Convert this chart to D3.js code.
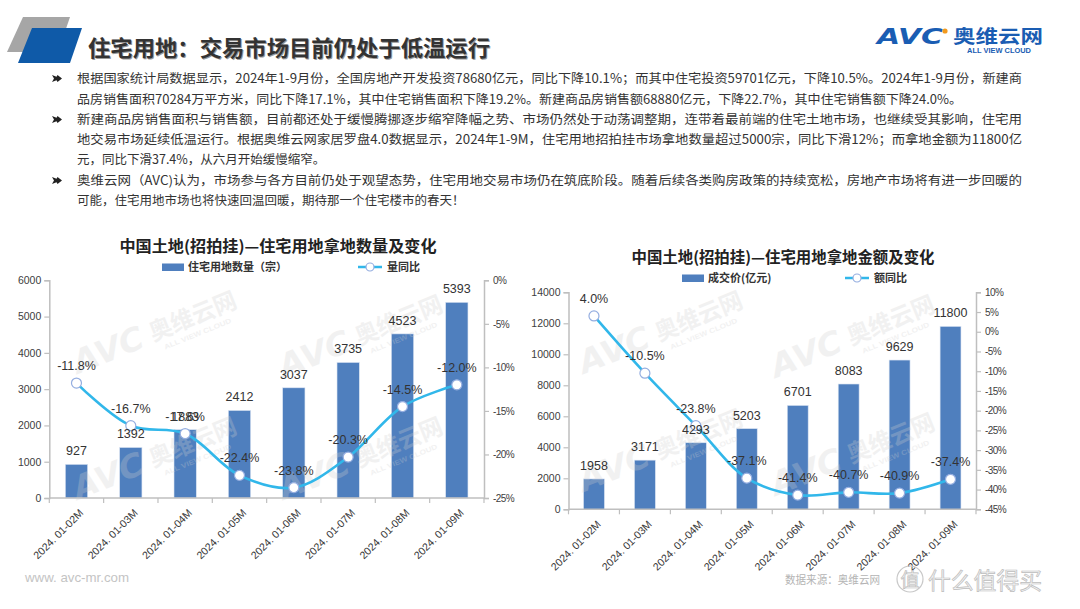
<!DOCTYPE html>
<html><head><meta charset="utf-8">
<script src="https://cdn.jsdelivr.net/npm/d3@7/dist/d3.min.js"></script>
<style>body{margin:0;background:#fff;overflow:hidden} svg{display:block}</style>
</head><body><svg id="c" width="1080" height="609"></svg>
<script>
// ---------- data ----------
const categories = ["2024. 01-02M","2024. 01-03M","2024. 01-04M","2024. 01-05M","2024. 01-06M","2024. 01-07M","2024. 01-08M","2024. 01-09M"];
const landCount = [927,1392,1883,2412,3037,3735,4523,5393];
const countYoY = [-11.8,-16.7,-17.6,-22.4,-23.8,-20.3,-14.5,-12.0];
const landAmount = [1958,3171,4293,5203,6701,8083,9629,11800];
const amountYoY = [4.0,-10.5,-23.8,-37.1,-41.4,-40.7,-40.9,-37.4];
const countTicks = [0,1000,2000,3000,4000,5000,6000];
const countPctTicks = [-25,-20,-15,-10,-5,0];
const amountTicks = [0,2000,4000,6000,8000,10000,12000,14000];
const amountPctTicks = [-45,-40,-35,-30,-25,-20,-15,-10,-5,0,5,10];
const pageTitle = "住宅用地：交易市场目前仍处于低温运行";
const chartTitles = ["中国土地(招拍挂)—住宅用地拿地数量及变化","中国土地(招拍挂)—住宅用地拿地金额及变化"];
const barNames = ["住宅用地数量（宗）","成交价(亿元)"];
const lineNames = ["量同比","额同比"];
const bodyLines = [
 "根据国家统计局数据显示，2024年1-9月份，全国房地产开发投资78680亿元，同比下降10.1%；而其中住宅投资59701亿元，下降10.5%。2024年1-9月份，新建商",
 "品房销售面积70284万平方米，同比下降17.1%，其中住宅销售面积下降19.2%。新建商品房销售额68880亿元，下降22.7%，其中住宅销售额下降24.0%。",
 "新建商品房销售面积与销售额，目前都还处于缓慢腾挪逐步缩窄降幅之势、市场仍然处于动荡调整期，连带着最前端的住宅土地市场，也继续受其影响，住宅用",
 "地交易市场延续低温运行。根据奥维云网家居罗盘4.0数据显示，2024年1-9M，住宅用地招拍挂市场拿地数量超过5000宗，同比下滑12%；而拿地金额为11800亿",
 "元，同比下滑37.4%，从六月开始缓慢缩窄。",
 "奥维云网（AVC)认为，市场参与各方目前仍处于观望态势，住宅用地交易市场仍在筑底阶段。随着后续各类购房政策的持续宽松，房地产市场将有进一步回暖的",
 "可能，住宅用地市场也将快速回温回暖，期待那一个住宅楼市的春天！"
];

const svg = d3.select("#c");
const CJK = "'Noto Sans CJK SC','Noto Sans',sans-serif";
const NUM = "'Liberation Sans','Noto Sans',sans-serif";
const BAR = "#4f7fbe", LINE = "#31b7ea", MARK = "#95aee0";

// ---------- header ----------
svg.append("polygon").attr("points","23,17 70,17 58,52 7,52").attr("fill","#a6a6a6");
svg.append("polygon").attr("points","32,28 82,28 70,63 18,63").attr("fill","#0f5aa8");
svg.append("text").attr("x",89).attr("y",57).attr("font-family",CJK).attr("font-weight","bold")
  .attr("font-size",22).attr("fill","#9a9a9a").attr("textLength",402).attr("lengthAdjust","spacingAndGlyphs").text(pageTitle);
svg.append("text").attr("x",88).attr("y",56).attr("font-family",CJK).attr("font-weight","bold")
  .attr("font-size",22).attr("fill","#333").attr("textLength",402).attr("lengthAdjust","spacingAndGlyphs").text(pageTitle);

// logo
svg.append("text").attr("x",877).attr("y",44).attr("font-family","'DejaVu Sans',sans-serif").attr("font-weight","bold")
  .attr("font-style","italic").attr("font-size",21).attr("fill","#1a5db3").attr("textLength",66).attr("lengthAdjust","spacingAndGlyphs").text("AVC");
svg.append("circle").attr("cx",945).attr("cy",31).attr("r",2.6).attr("fill","#f39a1e");
svg.append("text").attr("x",953).attr("y",43).attr("font-family",CJK).attr("font-weight","bold")
  .attr("font-size",18).attr("fill","#1a5db3").attr("textLength",90).attr("lengthAdjust","spacingAndGlyphs").text("奥维云网");
svg.append("text").attr("x",967).attr("y",53).attr("font-family",NUM).attr("font-weight","bold")
  .attr("font-size",7).attr("fill","#1a5db3").attr("textLength",64).attr("lengthAdjust","spacingAndGlyphs").text("ALL VIEW CLOUD");

// ---------- body text ----------
const lineY = [83,104,124,144,164,185,205];
const lineW = [945,885,945,945,null,945,null];
bodyLines.forEach((t,i)=>{
  const tx = svg.append("text").attr("x",77).attr("y",lineY[i]).attr("font-family",CJK)
    .attr("font-size",12.5).attr("fill","#333").text(t);
  if(lineW[i]) tx.attr("textLength",lineW[i]).attr("lengthAdjust","spacingAndGlyphs");
});
[0,2,5].forEach(i=>{
  svg.append("path").attr("transform",`translate(57,${lineY[i]-4.5})`)
    .attr("d","M-5,-3.5 L-0.5,-1.8 L0.5,-3.5 L5,0 L0.5,3.5 L-0.5,1.8 L-5,3.5 L-3,0 Z").attr("fill","#222");
});

// ---------- watermark helper ----------
function watermark(g,x,y){
  const w = g.append("g").attr("transform",`translate(${x},${y}) rotate(-22)`).attr("opacity",0.28).attr("pointer-events","none");
  w.append("text").attr("x",0).attr("y",0).attr("font-family","'DejaVu Sans',sans-serif").attr("font-weight","bold")
   .attr("font-style","italic").attr("font-size",32).attr("fill","#cfcfcf").attr("textLength",74).attr("lengthAdjust","spacingAndGlyphs").text("AVC");
  w.append("text").attr("x",82).attr("y",-2).attr("font-family",CJK).attr("font-weight","bold")
   .attr("font-size",24).attr("fill","#cfcfcf").attr("textLength",92).attr("lengthAdjust","spacingAndGlyphs").text("奥维云网");
  w.append("text").attr("x",90).attr("y",10).attr("font-family",NUM).attr("font-weight","bold")
   .attr("font-size",7).attr("fill","#cfcfcf").attr("textLength",72).attr("lengthAdjust","spacingAndGlyphs").text("ALL VIEW CLOUD");
}

// ---------- combo chart ----------
function drawChart(o){
  const g = svg.append("g");
  const x = d3.scaleBand().domain(categories).range([o.x0,o.x1]).paddingInner(0.59).paddingOuter(0.295);
  const yL = d3.scaleLinear().domain([0,d3.max(o.ticks)]).range([o.yB,o.yT]);
  const yR = d3.scaleLinear().domain(d3.extent(o.pctTicks)).range([o.yB,o.yT]);
  const cx = c => x(c)+x.bandwidth()/2;

  // title
  g.append("text").attr("x",o.titleX).attr("y",o.titleY).attr("text-anchor","middle").attr("font-family",CJK)
   .attr("font-weight","bold").attr("font-size",15.5).attr("fill","#222").attr("textLength",o.titleW)
   .attr("lengthAdjust","spacingAndGlyphs").text(o.title);
  // legend
  g.append("rect").attr("x",o.lgX).attr("y",o.lgY-3.5).attr("width",22).attr("height",7.5).attr("fill",BAR);
  g.append("text").attr("x",o.lgX+26).attr("y",o.lgY+4).attr("font-family",CJK).attr("font-weight","bold")
   .attr("font-size",11).attr("fill","#333").text(o.barName);
  g.append("line").attr("x1",o.lg2X).attr("x2",o.lg2X+24).attr("y1",o.lgY).attr("y2",o.lgY).attr("stroke",LINE).attr("stroke-width",2.5);
  g.append("circle").attr("cx",o.lg2X+12).attr("cy",o.lgY).attr("r",4).attr("fill","#fff").attr("stroke",MARK).attr("stroke-width",1.2);
  g.append("text").attr("x",o.lg2X+29).attr("y",o.lgY+4).attr("font-family",CJK).attr("font-weight","bold")
   .attr("font-size",11).attr("fill","#333").text(o.lineName);

  // axes
  const axL = g.append("g").attr("transform",`translate(${o.x0},0)`)
    .call(d3.axisLeft(yL).tickValues(o.ticks).tickSize(5).tickPadding(3).tickFormat(d3.format("d")));
  const axR = g.append("g").attr("transform",`translate(${o.x1},0)`)
    .call(d3.axisRight(yR).tickValues(o.pctTicks).tickSize(5).tickPadding(4).tickFormat(d=>d+"%"));
  [axL,axR].forEach(a=>{
    a.select(".domain").attr("stroke","#bfbfbf").attr("stroke-width",1.5);
    a.selectAll(".tick line").attr("stroke","#bfbfbf").attr("stroke-width",1.2);
    a.selectAll(".tick text").attr("font-family",NUM).attr("font-size",10.5).attr("fill","#404040");
  });
  axR.selectAll(".tick text").attr("font-size",10).attr("letter-spacing","-0.6px");

  // bars
  g.selectAll("rect.bar").data(categories).enter().append("rect").attr("class","bar")
   .attr("x",c=>x(c)).attr("width",x.bandwidth())
   .attr("y",(c,i)=>yL(o.values[i])).attr("height",(c,i)=>o.yB-yL(o.values[i]))
   .attr("fill",BAR).attr("stroke","#d9e3f2").attr("stroke-width",0.6);

  // x axis
  g.append("line").attr("x1",o.x0).attr("x2",o.x1).attr("y1",o.yB).attr("y2",o.yB).attr("stroke","#bfbfbf").attr("stroke-width",1.5);
  d3.range(categories.length+1).forEach(i=>{
    const xx = o.x0 + i*x.step();
    g.append("line").attr("x1",xx).attr("x2",xx).attr("y1",o.yB).attr("y2",o.yB+5).attr("stroke","#bfbfbf").attr("stroke-width",1.2);
  });
  g.selectAll("text.xl").data(categories).enter().append("text").attr("class","xl")
   .attr("transform",c=>`translate(${cx(c)+5},${o.yB+13}) rotate(-45)`).attr("text-anchor","end").attr("dy","0.35em")
   .attr("font-family",NUM).attr("font-size",10.6).attr("fill","#383838").text(c=>c);

  // watermarks
  o.wm.forEach(p=>watermark(g,p[0],p[1]));

  // line
  const pts = categories.map((c,i)=>[cx(c),yR(o.pct[i])]);
  g.append("path").attr("d",d3.line().curve(d3.curveCatmullRom.alpha(0.5))(pts))
   .attr("fill","none").attr("stroke",LINE).attr("stroke-width",2.6);
  g.selectAll("circle.pt").data(pts).enter().append("circle").attr("class","pt")
   .attr("cx",d=>d[0]).attr("cy",d=>d[1]).attr("r",5).attr("fill","#fff").attr("stroke",MARK).attr("stroke-width",1.2);

  // labels
  g.selectAll("text.bl").data(categories).enter().append("text").attr("class","bl")
   .attr("x",c=>cx(c)).attr("y",(c,i)=>yL(o.values[i])-9).attr("text-anchor","middle")
   .attr("font-family",NUM).attr("font-size",12.5).attr("fill","#333").text((c,i)=>o.values[i]);
  g.selectAll("text.pl").data(categories).enter().append("text").attr("class","pl")
   .attr("x",c=>cx(c)).attr("y",(c,i)=>yR(o.pct[i])-13).attr("text-anchor","middle")
   .attr("font-family",NUM).attr("font-size",12.5).attr("fill","#333").text((c,i)=>o.pct[i].toFixed(1)+"%");
}

drawChart({x0:49.3,x1:484,yT:280.3,yB:498,values:landCount,pct:countYoY,ticks:countTicks,pctTicks:countPctTicks,
  title:chartTitles[0],titleX:278,titleY:252,titleW:317,barName:barNames[0],lineName:lineNames[0],
  lgX:162,lg2X:358,lgY:267,wm:[[78,374],[284,378],[78,500],[284,500]]});
drawChart({x0:568.5,x1:976,yT:292.3,yB:509.3,values:landAmount,pct:amountYoY,ticks:amountTicks,pctTicks:amountPctTicks,
  title:chartTitles[1],titleX:783,titleY:263,titleW:303,barName:barNames[1],lineName:lineNames[1],
  lgX:682,lg2X:845,lgY:278,wm:[[584,374],[776,378],[584,492],[776,496]]});

// ---------- footer ----------
svg.append("text").attr("x",25).attr("y",582).attr("font-family",NUM).attr("font-size",13).attr("fill","#c4c4c4")
  .attr("textLength",104).attr("lengthAdjust","spacingAndGlyphs").text("www. avc-mr.com");
svg.append("text").attr("x",785).attr("y",584).attr("font-family",CJK).attr("font-size",11).attr("fill","#b4b4b4")
  .attr("textLength",95).attr("lengthAdjust","spacingAndGlyphs").text("数据来源：奥维云网");
svg.append("circle").attr("cx",910).attr("cy",579).attr("r",13).attr("fill","none").attr("stroke","#c8c8c8").attr("stroke-width",1.2);
svg.append("text").attr("x",910).attr("y",587).attr("text-anchor","middle").attr("font-family",CJK).attr("font-size",19)
  .attr("fill","#f2f2f2").attr("stroke","#bdbdbd").attr("stroke-width",0.7).text("值");
svg.append("text").attr("x",928).attr("y",589).attr("font-family",CJK).attr("font-size",23)
  .attr("fill","#f2f2f2").attr("stroke","#bdbdbd").attr("stroke-width",0.7).attr("textLength",114).attr("lengthAdjust","spacingAndGlyphs").text("什么值得买");
</script></body></html>
